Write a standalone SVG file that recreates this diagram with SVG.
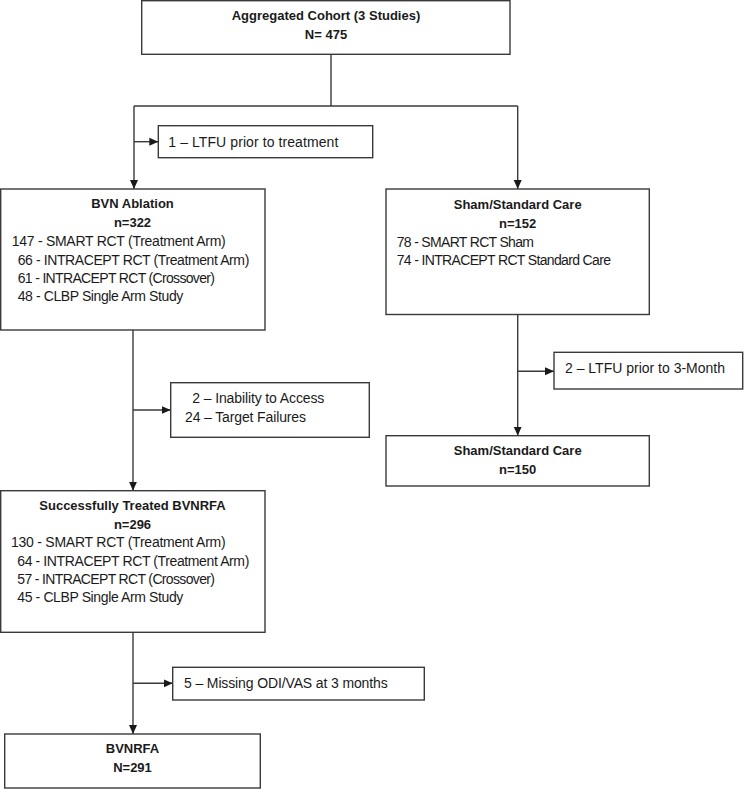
<svg xmlns="http://www.w3.org/2000/svg" width="744" height="789" viewBox="0 0 744 789">
<style>
.box{fill:#fff;stroke:#3a3a3a;stroke-width:1.4}
.ln{fill:none;stroke:#3a3a3a;stroke-width:1.4}
.b{font-family:"Liberation Sans",Arial,sans-serif;font-weight:bold;font-size:13px;fill:#1a1a1a;text-anchor:middle}
.r{font-family:"Liberation Sans",Arial,sans-serif;font-size:14px;fill:#1a1a1a}
</style>
<defs>
<marker id="arr" markerUnits="userSpaceOnUse" markerWidth="10" markerHeight="10" viewBox="0 0 10 10" refX="9" refY="5" orient="auto">
<path d="M0,1 L9,5 L0,9 Z" fill="#1a1a1a"/>
</marker>
</defs>
<rect width="744" height="789" fill="#fff"/>
<g id="connectors">
<path class="ln" d="M331,54 V106"/>
<path class="ln" d="M134,106 H517.7"/>
<path class="ln" d="M134,106 V189" marker-end="url(#arr)"/>
<path class="ln" d="M517.7,106 V189" marker-end="url(#arr)"/>
<path class="ln" d="M134,141.7 H158.3" marker-end="url(#arr)"/>
<path class="ln" d="M133,330 V490.7" marker-end="url(#arr)"/>
<path class="ln" d="M133,410 H170.7" marker-end="url(#arr)"/>
<path class="ln" d="M517.7,314.5 V435.7" marker-end="url(#arr)"/>
<path class="ln" d="M517.7,371.3 H554" marker-end="url(#arr)"/>
<path class="ln" d="M133,632.3 V734" marker-end="url(#arr)"/>
<path class="ln" d="M133,683.3 H172.7" marker-end="url(#arr)"/>
</g>
<g id="aggregated">
<rect class="box" x="141.7" y="0.7" width="368.3" height="53.6"/>
<text class="b" x="326" y="20">Aggregated Cohort (3 Studies)</text>
<text class="b" x="326" y="39">N= 475</text>
</g>
<g id="ltfu1">
<rect class="box" x="158.3" y="125.7" width="214.4" height="32"/>
<text class="r" x="168.3" y="146.5" textLength="170">1 – LTFU prior to treatment</text>
</g>
<g id="bvn">
<rect class="box" x="0.7" y="189" width="264.3" height="141"/>
<text class="b" x="132.5" y="208">BVN Ablation</text>
<text class="b" x="132.5" y="227.3">n=322</text>
<text class="r" x="11.7" y="246" textLength="214">147 - SMART RCT (Treatment Arm)</text>
<text class="r" x="17.7" y="264.5" textLength="231.6">66 - INTRACEPT RCT (Treatment Arm)</text>
<text class="r" x="17.7" y="283" textLength="197.3">61 - INTRACEPT RCT (Crossover)</text>
<text class="r" x="17.7" y="301.3" textLength="165.6">48 - CLBP Single Arm Study</text>
</g>
<g id="sham1">
<rect class="box" x="386" y="189" width="263.3" height="125.5"/>
<text class="b" x="517.7" y="208.6">Sham/Standard Care</text>
<text class="b" x="517.7" y="228">n=152</text>
<text class="r" x="396.7" y="246.7" textLength="137.3">78 - SMART RCT Sham</text>
<text class="r" x="396.7" y="265" textLength="214.3">74 - INTRACEPT RCT Standard Care</text>
</g>
<g id="ltfu2">
<rect class="box" x="554" y="352.3" width="188.7" height="36.7"/>
<text class="r" x="565" y="373.3" textLength="160">2 – LTFU prior to 3-Month</text>
</g>
<g id="failures">
<rect class="box" x="170.7" y="382.7" width="198.6" height="54.6"/>
<text class="r" x="192.3" y="402.7" textLength="132">2 – Inability to Access</text>
<text class="r" x="185" y="421.7" textLength="121">24 – Target Failures</text>
</g>
<g id="sham2">
<rect class="box" x="386" y="435.7" width="263.3" height="50.3"/>
<text class="b" x="517.7" y="454.6">Sham/Standard Care</text>
<text class="b" x="517.7" y="474">n=150</text>
</g>
<g id="treated">
<rect class="box" x="0.7" y="490.7" width="264.3" height="141.6"/>
<text class="b" x="132.5" y="510.3">Successfully Treated BVNRFA</text>
<text class="b" x="132.5" y="529">n=296</text>
<text class="r" x="11" y="547.3" textLength="214.7">130 - SMART RCT (Treatment Arm)</text>
<text class="r" x="17.3" y="565.7" textLength="232">64 - INTRACEPT RCT (Treatment Arm)</text>
<text class="r" x="17.3" y="584" textLength="197.7">57 - INTRACEPT RCT (Crossover)</text>
<text class="r" x="17.3" y="602.3" textLength="166">45 - CLBP Single Arm Study</text>
</g>
<g id="missing">
<rect class="box" x="172.7" y="667.3" width="251.6" height="32.7"/>
<text class="r" x="184" y="688" textLength="203.7">5 – Missing ODI/VAS at 3 months</text>
</g>
<g id="bvnrfa">
<rect class="box" x="4.7" y="734" width="255.6" height="54"/>
<text class="b" x="132.5" y="753">BVNRFA</text>
<text class="b" x="132.5" y="772.3">N=291</text>
</g>
</svg>
